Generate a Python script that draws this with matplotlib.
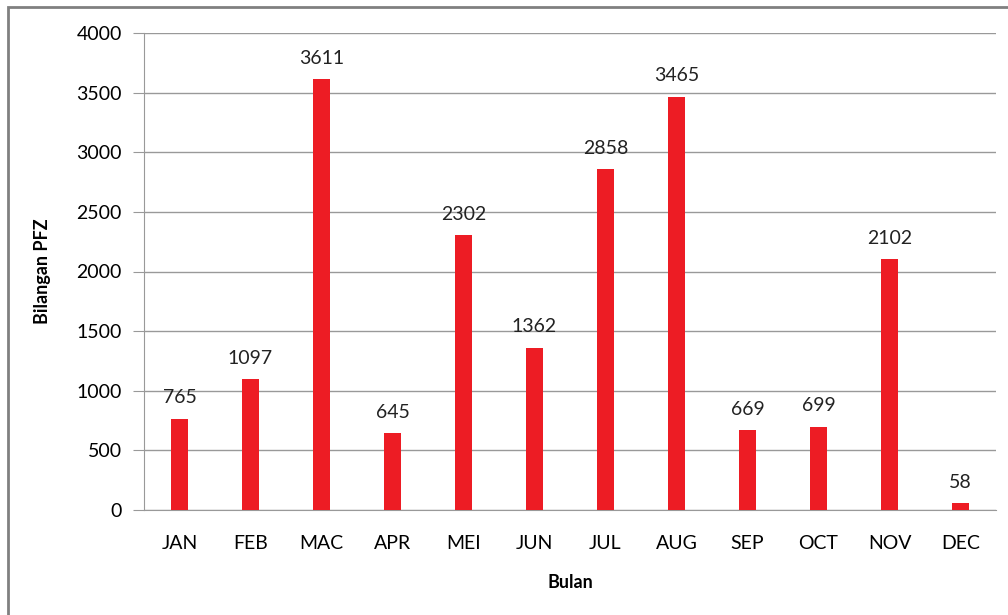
import matplotlib
matplotlib.use('Agg')
import matplotlib.pyplot as plt
from matplotlib.patches import Rectangle

# data
months = ["JAN", "FEB", "MAC", "APR", "MEI", "JUN", "JUL", "AUG", "SEP", "OCT", "NOV", "DEC"]
pfz_counts = [765, 1097, 3611, 645, 2302, 1362, 2858, 3465, 669, 699, 2102, 58]
y_ticks = [0, 500, 1000, 1500, 2000, 2500, 3000, 3500, 4000]

plt.rcParams['font.family'] = ['Lato', 'DejaVu Sans']

fig = plt.figure(figsize=(10.08, 6.15), dpi=100)

# outer chart frame (only left/top visible in the crop)
fig.patches.append(Rectangle((8 / 1008, -0.1), 1.2, 1 - 7 / 615 + 0.1,
                             transform=fig.transFigure, fill=False,
                             edgecolor='#808080', linewidth=2))

ax = fig.add_axes([144 / 1008, 1 - 510 / 615, 852 / 1008, 477 / 615])
x = range(len(months))
ax.bar(x, pfz_counts, width=0.24, color='#ED1C24', zorder=3)

for xi, v in zip(x, pfz_counts):
    ax.text(xi, v + 105, str(v), ha='center', va='bottom', fontsize=14, color='#222222')

ax.set_xlim(-0.5, len(months) - 0.5)
ax.set_ylim(0, 4000)
ax.set_yticks(y_ticks)
ax.set_yticklabels([str(t) for t in y_ticks], fontsize=14)
ax.set_xticks(list(x))
ax.set_xticklabels(months, fontsize=14)
ax.tick_params(axis='x', length=0, pad=18)
ax.tick_params(axis='y', length=8, color='#999999', pad=8)
ax.grid(axis='y', color='#999999', linewidth=1, zorder=0)

for side in ['top', 'right']:
    ax.spines[side].set_visible(False)
ax.spines['left'].set_color('#999999')
ax.spines['bottom'].set_color('#999999')

ax.set_xlabel("Bulan", fontsize=13, fontweight='bold', labelpad=16)
ax.set_ylabel("Bilangan PFZ", fontsize=13, fontweight='bold', labelpad=18)

fig.savefig("out.png", dpi=100)
